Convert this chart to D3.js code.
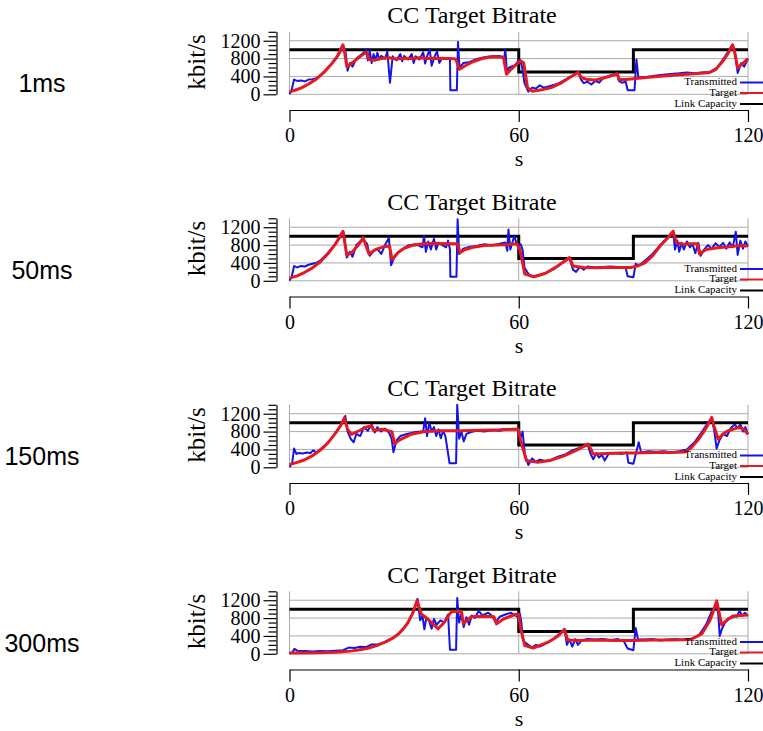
<!DOCTYPE html>
<html>
<head>
<meta charset="utf-8">
<script src="https://cdn.jsdelivr.net/npm/d3@7"></script>
<style>
  body { margin: 0; background: #fff; }
  text { font-family: "Liberation Serif", "Times New Roman", serif; fill: #000; }
  .side { font-family: "Liberation Sans", Arial, sans-serif; font-size: 25px; }
  .grid { stroke: #aaa; stroke-width: 1; }
  .axis path, .axis line { stroke: #000; stroke-width: 1.2; }
</style>
</head>
<body>
<script>
// time axis ticks (s) and rate axis ticks (kbit/s)
var timeTicks = [0, 60, 120];
var rateTicks = [0, 400, 800, 1200];
var panelLabels = ["1ms", "50ms", "150ms", "300ms"];
var legendNames = ["Transmitted", "Target", "Link Capacity"];

// link capacity, same for every delay
var linkCapacity = [[0, 1000], [60, 1000], [60, 500], [90, 500], [90, 1000], [120, 1000]];

// 1ms
var target1 = [[0,60],[1,80],[3,140],[5,230],[7,340],[9,490],[11,680],[12.5,850],[14,1110],[14.5,900],[15,620],[16,680],[17.5,780],[19.5,910],[20.3,930],[20.8,780],[22,760],[24,800],[26,820],[28,790],[30,810],[32,800],[34,820],[36,800],[38,810],[40,800],[42,800],[43.5,790],[44.5,560],[46,640],[48,730],[50,790],[52,830],[54,840],[56,830],[56.8,450],[58,560],[59.5,680],[60.5,750],[61.3,700],[62.3,150],[63.5,70],[66,100],[68.5,150],[71,250],[73,360],[75.5,490],[76.5,370],[78,330],[80,320],[82,360],[84,410],[85.8,460],[86.3,330],[88,330],[90,350],[94,380],[98,410],[102,440],[106,460],[110,490],[111.5,550],[113.5,750],[115,950],[116,1110],[116.6,900],[117.3,590],[118.5,680],[120,800]];
var sent1 = [[0,0],[0.5,80],[1.2,330],[2,300],[3,310],[4,290],[5,330],[6,340],[7,360],[8,420],[9,500],[10,590],[11,680],[12,780],[13,900],[14,1050],[14.6,1000],[15.2,530],[15.8,700],[16.5,620],[17.5,800],[18.5,870],[19.5,940],[20,1000],[20.5,760],[21,980],[21.5,700],[22,900],[22.5,760],[23,930],[23.5,780],[24,860],[25,800],[25.6,960],[26.3,260],[27,850],[28,760],[29,900],[29.5,740],[30,860],[31,780],[32,900],[32.5,700],[33,850],[34,780],[35,940],[35.5,690],[36,850],[36.7,1000],[37.2,640],[38,850],[38.6,960],[39.2,700],[40,820],[41,790],[42,800],[42.1,90],[43.8,90],[44.1,1170],[44.5,600],[45.5,700],[47,720],[49,790],[51,830],[53,850],[55,860],[56.2,820],[56.5,1000],[56.9,500],[57.5,600],[59,650],[60.2,780],[60.8,650],[61.5,250],[62.5,60],[63.5,150],[64.5,130],[65.5,200],[66.5,150],[68,180],[70,230],[72,320],[74,410],[75.5,500],[76.3,330],[77,250],[78,280],[79,220],[80,300],[81,260],[82,350],[84,420],[85.7,470],[86.2,300],[87,260],[88,280],[88.5,90],[90.3,90],[90.8,780],[91.3,380],[93,380],[96,420],[99,450],[102,470],[104,490],[106,470],[108,490],[110,500],[112,600],[114,850],[115.8,1100],[116.5,1000],[117.3,480],[118.2,700],[119,620],[120,800]];

// 50ms
var target50 = [[0,60],[2,110],[4,190],[6,290],[8,420],[10,600],[12,820],[14,1110],[15,570],[16.5,650],[18,800],[19.3,960],[20.8,600],[22.5,700],[24.5,760],[26.2,780],[26.8,480],[28.5,640],[30,730],[32,790],[35,830],[38,840],[41,830],[44,830],[44.6,630],[46,700],[48,750],[51,790],[54,800],[57,810],[59.5,830],[60.3,700],[61.6,150],[64,90],[67,170],[70,320],[73.3,520],[74.2,330],[77,300],[80,290],[83,300],[86,300],[89.5,300],[91,330],[93,400],[95,560],[97,780],[99,960],[100.4,1110],[101.3,850],[103,820],[105,830],[106.8,830],[107.3,600],[109,700],[112,740],[115,760],[118,790],[120,780]];
var sent50 = [[0,0],[0.6,100],[1.2,330],[2,300],[3,330],[4,320],[5,360],[6,380],[7,400],[8,450],[10,620],[12,820],[13.5,1000],[14.2,1080],[15,520],[15.8,650],[16.5,540],[17.5,800],[18.5,880],[19.5,900],[20.3,830],[21,560],[21.8,650],[23,720],[24,600],[25,800],[26,960],[26.6,350],[27.3,500],[28.3,620],[29.5,700],[31,790],[33,820],[34.8,750],[35.2,1000],[35.7,650],[36.3,880],[37,700],[37.8,940],[38.4,700],[39,850],[40,800],[41,750],[41.5,900],[42,700],[42.1,90],[43.7,90],[44,1380],[44.4,600],[45.5,720],[47,760],[49,780],[51,820],[53,790],[55,830],[56.5,860],[57,670],[57.3,1150],[57.8,700],[58.8,1000],[59.6,800],[60.5,820],[61,700],[61.5,300],[62.5,160],[63.5,90],[65,120],[67,170],[69,250],[71,380],[73.3,500],[74.2,250],[75,200],[76,310],[77,250],[78,320],[80,300],[82,310],[84,320],[86,310],[88,290],[88.5,100],[90,80],[90.6,380],[91.5,350],[93,450],[95,600],[97,800],[99,970],[100.4,1100],[100.9,700],[101.5,900],[102,650],[102.6,850],[103.2,700],[104,880],[104.8,750],[105.5,820],[106.2,620],[107,850],[107.6,560],[108.5,700],[109.5,800],[110.5,720],[111.5,840],[112.5,760],[113.5,850],[114.3,720],[115.2,860],[116,750],[116.8,1100],[117.3,580],[118,900],[118.7,720],[119.3,880],[120,780]];

// 150ms
var target150 = [[0,60],[2,110],[4,170],[6,260],[8,380],[10,540],[12,760],[13.5,950],[14.4,1110],[15.2,850],[16.2,740],[18.5,830],[20,900],[21.4,930],[22,830],[24.5,850],[26.8,800],[27.5,530],[29,620],[31.9,740],[35.4,800],[40,820],[45,820],[50,830],[55,840],[59.8,860],[60.5,600],[62,150],[65,110],[68.5,160],[72,260],[75,380],[78.2,520],[79.5,300],[83,310],[87,320],[90.4,320],[95,330],[100,330],[103.5,340],[105.2,445],[107,620],[108.3,780],[109.5,950],[110.5,1120],[111.2,900],[112.2,630],[113.5,750],[114.8,820],[117.5,890],[118.8,860],[120,740]];
var sent150 = [[0,0],[0.7,100],[1.2,420],[1.8,300],[2.5,320],[3.5,310],[4.5,330],[5.5,320],[6.2,380],[7,330],[8,400],[10,540],[12,760],[13.5,950],[14.6,1150],[15.2,800],[16,640],[16.8,560],[17.5,750],[18.5,700],[19.5,900],[20.5,820],[21.5,960],[22.3,780],[23,900],[24,800],[25,870],[26,780],[26.7,650],[27.2,340],[28,600],[29,700],[30.5,740],[33,790],[35,810],[35.5,1100],[36,700],[36.6,1000],[37.2,800],[37.8,900],[38.4,700],[39,850],[39.6,650],[40.2,820],[40.8,700],[41.9,90],[43.6,90],[43.9,1400],[44.4,640],[45,800],[45.6,580],[46.3,750],[47.5,790],[49,820],[51,800],[53,830],[55,820],[57,850],[59,850],[60,860],[60.4,650],[61,800],[61.6,300],[62.5,50],[63.5,200],[64.5,120],[65.5,170],[67,140],[68.5,170],[70,230],[72,280],[74,380],[76,440],[78,520],[78.8,300],[79.5,180],[80.3,320],[81,220],[81.8,280],[82.5,150],[83.5,300],[85,320],[87,300],[88.3,330],[88.7,100],[90,80],[91.4,560],[92,340],[94,360],[96,350],[98,360],[100,340],[102,360],[104,400],[106,560],[108,800],[109.5,1000],[110.5,1100],[111.2,800],[111.8,420],[112.5,600],[113.5,750],[114.5,700],[115.5,880],[116.5,960],[117.3,880],[118,960],[118.7,800],[119.3,900],[120,740]];

// 300ms
var target300 = [[0,20],[4,20],[8,25],[12,35],[16,60],[18,85],[20.5,125],[23,190],[25,260],[27,350],[28.5,445],[30,580],[31,700],[32.2,900],[33.4,1190],[34.5,890],[36.2,780],[38.9,560],[40.5,700],[41.8,880],[42.5,950],[45,950],[45.5,680],[47.6,830],[51,840],[53.5,830],[54.2,670],[56,780],[59,880],[60,880],[60.5,560],[61.6,185],[63.8,130],[67.7,260],[70,380],[72,540],[72.8,310],[76,300],[80,310],[85,300],[90,300],[95,310],[100,310],[105,320],[107.9,445],[110,740],[110.9,950],[111.8,1185],[112.5,900],[113.1,650],[114.8,780],[116.6,850],[120,870]];
var sent300 = [[0,0],[0.8,40],[1.3,110],[2,70],[4,60],[6,50],[8,60],[10,55],[12,70],[14,80],[15.5,140],[17,130],[18.5,160],[20,150],[21.5,210],[23,210],[25,260],[27,350],[29,480],[31,700],[32.5,950],[33.5,1230],[34.2,750],[34.8,850],[35.3,550],[35.8,800],[36.5,740],[37.2,560],[37.8,780],[38.5,650],[39.5,750],[40.5,700],[41.5,880],[42,90],[43.6,90],[43.9,1250],[44.4,700],[45,900],[45.6,600],[46.3,820],[47,650],[47.7,860],[48.5,800],[49.5,960],[50.5,860],[52,920],[53,850],[54,700],[55,830],[56.5,880],[58,920],[59.5,840],[60.3,900],[60.7,700],[61,350],[61.5,260],[62.5,200],[63.5,140],[64.5,200],[65.5,160],[67,230],[69,330],[71,470],[72,560],[72.6,200],[73.3,320],[74,160],[74.8,330],[75.5,200],[76.5,300],[78,330],[80,320],[82,330],[84,310],[86,330],[87.5,280],[88.5,120],[90,80],[90.6,580],[91.2,320],[93,320],[95,330],[97,300],[99,320],[101,330],[103,310],[105,330],[107,400],[109,650],[110.5,950],[111.7,1100],[112.2,900],[112.6,400],[113.2,560],[114,700],[115,780],[116,860],[117,830],[117.8,960],[118.5,850],[119.2,920],[120,850]];

var targets = [target1, target50, target150, target300];
var sents = [sent1, sent50, sent150, sent300];

var colors = { sent: "#1414e6", target: "#e41a22", cap: "#000" };

var svg = d3.select("body").append("svg")
  .attr("width", 763)
  .attr("height", 731);

var x = d3.scaleLinear().domain([0, 120]).range([289.5, 748]);
var y = d3.scaleLinear().domain([0, 1400]).range([94.3, 31.8]);

var line = d3.line()
  .x(function(d) { return x(d[0]); })
  .y(function(d) { return y(d[1]); });

var panelGap = 186.5;

panelLabels.forEach(function(label, i) {
  var g = svg.append("g").attr("transform", "translate(0," + (i * panelGap) + ")");

  // delay label on the far left
  g.append("text")
    .attr("class", "side")
    .attr("x", 42)
    .attr("y", 92)
    .attr("text-anchor", "middle")
    .text(label);

  g.append("text")
    .attr("x", 472)
    .attr("y", 23)
    .attr("text-anchor", "middle")
    .style("font-size", "24px")
    .text("CC Target Bitrate");

  // grid
  g.selectAll(".hgrid")
    .data(rateTicks)
    .enter().append("line")
      .attr("class", "grid")
      .attr("x1", x(0)).attr("x2", x(120))
      .attr("y1", function(d) { return y(d); })
      .attr("y2", function(d) { return y(d); });

  g.selectAll(".vgrid")
    .data(timeTicks)
    .enter().append("line")
      .attr("class", "grid")
      .attr("x1", function(d) { return x(d); })
      .attr("x2", function(d) { return x(d); })
      .attr("y1", y(0)).attr("y2", y(1400));

  // y axis, minor ticks every 100
  var yAxis = g.append("g")
    .attr("class", "axis")
    .attr("transform", "translate(276.5,0)")
    .call(d3.axisLeft(y)
      .tickValues(d3.range(0, 1401, 100))
      .tickSize(8)
      .tickSizeOuter(0)
      .tickFormat(function(d) { return rateTicks.indexOf(d) >= 0 ? d : ""; }));
  yAxis.selectAll(".tick")
    .filter(function(d) { return rateTicks.indexOf(d) >= 0; })
    .select("line").attr("x2", -13);
  yAxis.selectAll(".tick text")
    .attr("x", -16)
    .style("font-size", "20px")
    .style("font-family", "Liberation Serif, serif");

  g.append("text")
    .attr("transform", "translate(205,62) rotate(-90)")
    .attr("text-anchor", "middle")
    .style("font-size", "25px")
    .text("kbit/s");

  // x axis sits below the plot
  var xAxis = g.append("g")
    .attr("class", "axis")
    .attr("transform", "translate(0,110)")
    .call(d3.axisBottom(x)
      .tickValues(timeTicks)
      .tickSize(12)
      .tickSizeOuter(0));
  xAxis.selectAll(".tick text")
    .attr("y", 18)
    .style("font-size", "20px")
    .style("font-family", "Liberation Serif, serif");

  g.append("text")
    .attr("x", 519)
    .attr("y", 166)
    .attr("text-anchor", "middle")
    .style("font-size", "22px")
    .text("s");

  // series
  g.append("path")
    .datum(linkCapacity)
    .attr("d", line)
    .attr("fill", "none")
    .attr("stroke", colors.cap)
    .attr("stroke-width", 3);

  g.append("path")
    .datum(sents[i])
    .attr("d", line)
    .attr("fill", "none")
    .attr("stroke", colors.sent)
    .attr("stroke-width", 2)
    .attr("stroke-linejoin", "round");

  g.append("path")
    .datum(targets[i])
    .attr("d", line)
    .attr("fill", "none")
    .attr("stroke", colors.target)
    .attr("stroke-width", 3)
    .attr("stroke-linejoin", "round");

  // legend
  var legendColors = [colors.sent, colors.target, colors.cap];
  var legendY = [85, 95.5, 106.5];
  legendNames.forEach(function(name, k) {
    g.append("text")
      .attr("x", 737)
      .attr("y", legendY[k])
      .attr("text-anchor", "end")
      .style("font-size", "11px")
      .text(name);
    g.append("line")
      .attr("x1", 740).attr("x2", 763)
      .attr("y1", legendY[k] - 2.5).attr("y2", legendY[k] - 2.5)
      .attr("stroke", legendColors[k])
      .attr("stroke-width", 2);
  });
});
</script>
</body>
</html>
